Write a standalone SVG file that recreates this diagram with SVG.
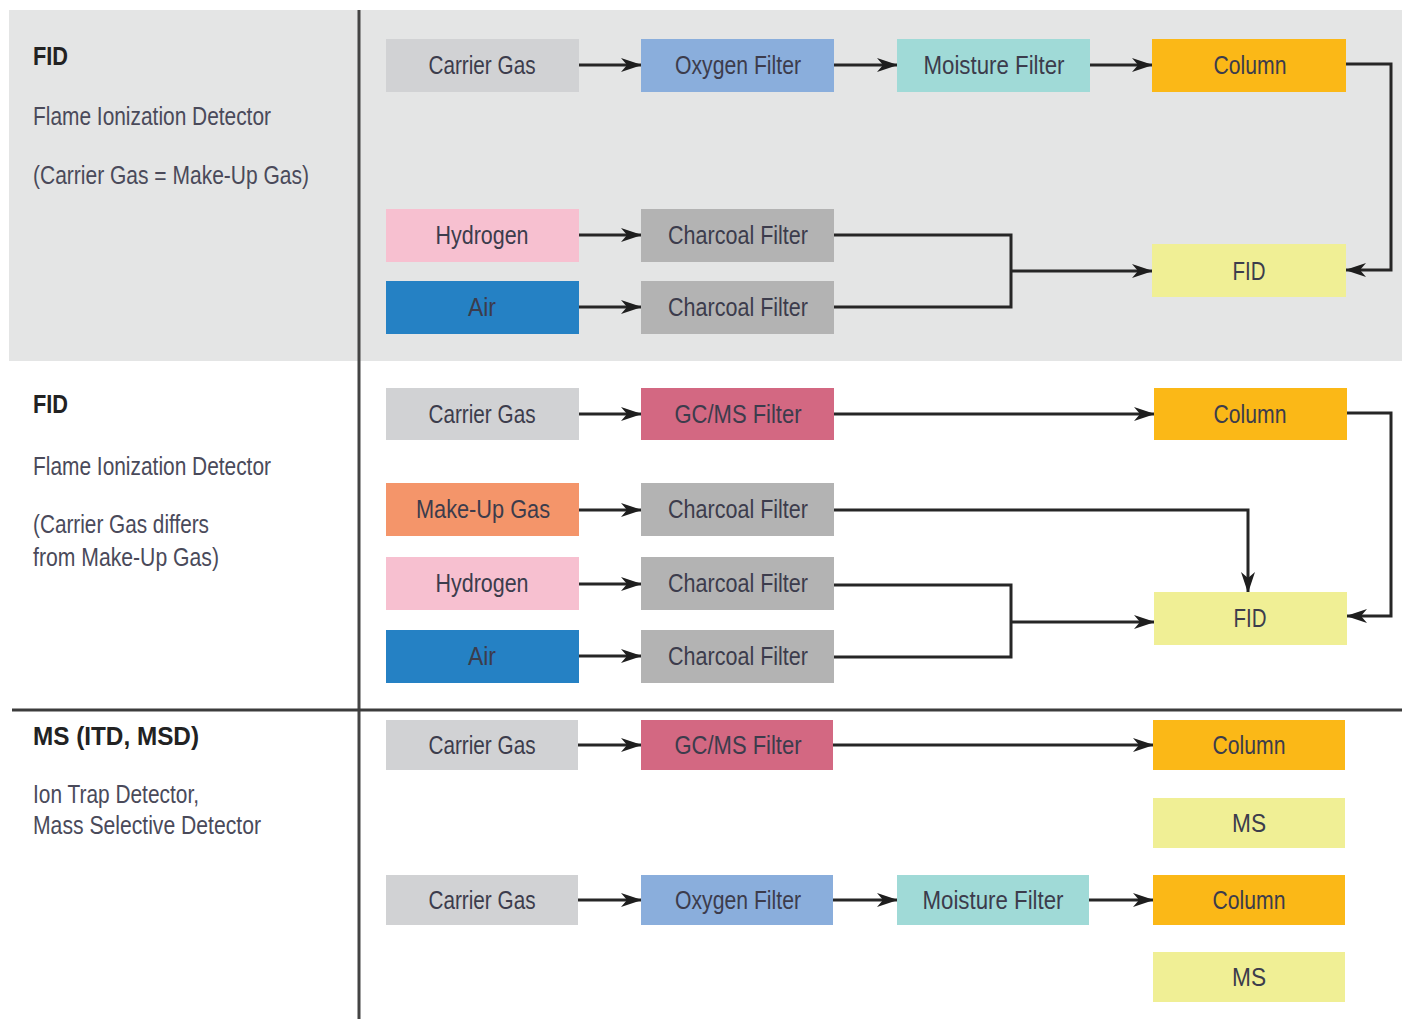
<svg xmlns="http://www.w3.org/2000/svg" width="1402" height="1019" viewBox="0 0 1402 1019">
<style>
text{font-family:"Liberation Sans",Arial,sans-serif;}
.lbl{font-size:26px;fill:#3c3c4c;text-anchor:middle;}
.side{font-size:26px;fill:#4a4a5a;}
.title{font-size:26px;font-weight:bold;fill:#222;}
.con{fill:none;stroke:#262626;stroke-width:3;}
.arr{marker-end:url(#ah);}
.gray{fill:#d1d2d4}.oxy{fill:#8aaedc}.moist{fill:#a0dad7}.col{fill:#fbb817}.hyd{fill:#f7c0d0}
.air{fill:#2581c4}.char{fill:#b3b3b3}.det{fill:#f0ef95}.gcms{fill:#d36882}.mk{fill:#f4956a}
</style>
<defs>
<marker id="ah" markerUnits="userSpaceOnUse" markerWidth="22" markerHeight="14" refX="20" refY="7" orient="auto">
<path d="M0,0 L21,7 L0,14 L6,7 Z" fill="#1e1e1e"/>
</marker>
</defs>
<rect width="1402" height="1019" fill="#fff"/>
<rect x="9" y="10" width="1393" height="351" fill="#e4e5e5"/>
<line x1="359" y1="10" x2="359" y2="1019" stroke="#444" stroke-width="3"/>
<line x1="12" y1="710" x2="1402" y2="710" stroke="#3c3c3c" stroke-width="3"/>

<g id="side1">
<text class="title" x="33" y="65" textLength="35" lengthAdjust="spacingAndGlyphs">FID</text>
<text class="side" x="33" y="125" textLength="238" lengthAdjust="spacingAndGlyphs">Flame Ionization Detector</text>
<text class="side" x="33" y="184" textLength="276" lengthAdjust="spacingAndGlyphs">(Carrier Gas = Make-Up Gas)</text>
</g>
<g id="side2">
<text class="title" x="33" y="413" textLength="35" lengthAdjust="spacingAndGlyphs">FID</text>
<text class="side" x="33" y="475" textLength="238" lengthAdjust="spacingAndGlyphs">Flame Ionization Detector</text>
<text class="side" x="33" y="533" textLength="176" lengthAdjust="spacingAndGlyphs">(Carrier Gas differs</text>
<text class="side" x="33" y="566" textLength="186" lengthAdjust="spacingAndGlyphs">from Make-Up Gas)</text>
</g>
<g id="side3">
<text class="title" x="33" y="745" textLength="166" lengthAdjust="spacingAndGlyphs">MS (ITD, MSD)</text>
<text class="side" x="33" y="803" textLength="166" lengthAdjust="spacingAndGlyphs">Ion Trap Detector,</text>
<text class="side" x="33" y="834" textLength="228" lengthAdjust="spacingAndGlyphs">Mass Selective Detector</text>
</g>

<g id="connectors">
<path class="con arr" d="M579,65 H641"/>
<path class="con arr" d="M834,65 H897"/>
<path class="con arr" d="M1090,65 H1152"/>
<path class="con arr" d="M1346,64 H1391 V270 H1346"/>
<path class="con arr" d="M579,235 H641"/>
<path class="con arr" d="M579,307 H641"/>
<path class="con" d="M834,235 H1011 V307 H834"/>
<path class="con arr" d="M1011,271 H1152"/>

<path class="con arr" d="M579,414 H641"/>
<path class="con arr" d="M834,414 H1154"/>
<path class="con arr" d="M1347,413 H1391 V616 H1347"/>
<path class="con arr" d="M579,510 H641"/>
<path class="con arr" d="M834,510 H1248 V592"/>
<path class="con arr" d="M579,584 H641"/>
<path class="con arr" d="M579,656 H641"/>
<path class="con" d="M834,585 H1011 V657 H834"/>
<path class="con arr" d="M1011,622 H1154"/>

<path class="con arr" d="M578,745 H641"/>
<path class="con arr" d="M833,745 H1153"/>
<path class="con arr" d="M578,900 H641"/>
<path class="con arr" d="M833,900 H897"/>
<path class="con arr" d="M1089,900 H1153"/>
</g>

<g id="n1"><rect class="gray" x="386" y="39" width="193" height="53"/><text class="lbl" x="482" y="74" textLength="107" lengthAdjust="spacingAndGlyphs">Carrier Gas</text></g>
<g id="n2"><rect class="oxy" x="641" y="39" width="193" height="53"/><text class="lbl" x="738" y="74" textLength="126" lengthAdjust="spacingAndGlyphs">Oxygen Filter</text></g>
<g id="n3"><rect class="moist" x="897" y="39" width="193" height="53"/><text class="lbl" x="994" y="74" textLength="141" lengthAdjust="spacingAndGlyphs">Moisture Filter</text></g>
<g id="n4"><rect class="col" x="1152" y="39" width="194" height="53"/><text class="lbl" x="1250" y="74" textLength="73" lengthAdjust="spacingAndGlyphs">Column</text></g>
<g id="n5"><rect class="hyd" x="386" y="209" width="193" height="53"/><text class="lbl" x="482" y="244" textLength="93" lengthAdjust="spacingAndGlyphs">Hydrogen</text></g>
<g id="n6"><rect class="char" x="641" y="209" width="193" height="53"/><text class="lbl" x="738" y="244" textLength="140" lengthAdjust="spacingAndGlyphs">Charcoal Filter</text></g>
<g id="n7"><rect class="air" x="386" y="281" width="193" height="53"/><text class="lbl" x="482" y="316" textLength="28" lengthAdjust="spacingAndGlyphs">Air</text></g>
<g id="n8"><rect class="char" x="641" y="281" width="193" height="53"/><text class="lbl" x="738" y="316" textLength="140" lengthAdjust="spacingAndGlyphs">Charcoal Filter</text></g>
<g id="n9"><rect class="det" x="1152" y="244" width="194" height="53"/><text class="lbl" x="1249" y="280" textLength="33" lengthAdjust="spacingAndGlyphs">FID</text></g>

<g id="m1"><rect class="gray" x="386" y="388" width="193" height="52"/><text class="lbl" x="482" y="423" textLength="107" lengthAdjust="spacingAndGlyphs">Carrier Gas</text></g>
<g id="m2"><rect class="gcms" x="641" y="388" width="193" height="52"/><text class="lbl" x="738" y="423" textLength="127" lengthAdjust="spacingAndGlyphs">GC/MS Filter</text></g>
<g id="m3"><rect class="col" x="1154" y="388" width="193" height="52"/><text class="lbl" x="1250" y="423" textLength="73" lengthAdjust="spacingAndGlyphs">Column</text></g>
<g id="m4"><rect class="mk" x="386" y="483" width="193" height="53"/><text class="lbl" x="483" y="518" textLength="134" lengthAdjust="spacingAndGlyphs">Make-Up Gas</text></g>
<g id="m5"><rect class="char" x="641" y="483" width="193" height="53"/><text class="lbl" x="738" y="518" textLength="140" lengthAdjust="spacingAndGlyphs">Charcoal Filter</text></g>
<g id="m6"><rect class="hyd" x="386" y="557" width="193" height="53"/><text class="lbl" x="482" y="592" textLength="93" lengthAdjust="spacingAndGlyphs">Hydrogen</text></g>
<g id="m7"><rect class="char" x="641" y="557" width="193" height="53"/><text class="lbl" x="738" y="592" textLength="140" lengthAdjust="spacingAndGlyphs">Charcoal Filter</text></g>
<g id="m8"><rect class="air" x="386" y="630" width="193" height="53"/><text class="lbl" x="482" y="665" textLength="28" lengthAdjust="spacingAndGlyphs">Air</text></g>
<g id="m9"><rect class="char" x="641" y="630" width="193" height="53"/><text class="lbl" x="738" y="665" textLength="140" lengthAdjust="spacingAndGlyphs">Charcoal Filter</text></g>
<g id="m10"><rect class="det" x="1154" y="592" width="193" height="53"/><text class="lbl" x="1250" y="627" textLength="33" lengthAdjust="spacingAndGlyphs">FID</text></g>

<g id="s1"><rect class="gray" x="386" y="720" width="192" height="50"/><text class="lbl" x="482" y="754" textLength="107" lengthAdjust="spacingAndGlyphs">Carrier Gas</text></g>
<g id="s2"><rect class="gcms" x="641" y="720" width="192" height="50"/><text class="lbl" x="738" y="754" textLength="127" lengthAdjust="spacingAndGlyphs">GC/MS Filter</text></g>
<g id="s3"><rect class="col" x="1153" y="720" width="192" height="50"/><text class="lbl" x="1249" y="754" textLength="73" lengthAdjust="spacingAndGlyphs">Column</text></g>
<g id="s4"><rect class="det" x="1153" y="798" width="192" height="50"/><text class="lbl" x="1249" y="832" textLength="34" lengthAdjust="spacingAndGlyphs">MS</text></g>
<g id="s5"><rect class="gray" x="386" y="875" width="192" height="50"/><text class="lbl" x="482" y="909" textLength="107" lengthAdjust="spacingAndGlyphs">Carrier Gas</text></g>
<g id="s6"><rect class="oxy" x="641" y="875" width="192" height="50"/><text class="lbl" x="738" y="909" textLength="126" lengthAdjust="spacingAndGlyphs">Oxygen Filter</text></g>
<g id="s7"><rect class="moist" x="897" y="875" width="192" height="50"/><text class="lbl" x="993" y="909" textLength="141" lengthAdjust="spacingAndGlyphs">Moisture Filter</text></g>
<g id="s8"><rect class="col" x="1153" y="875" width="192" height="50"/><text class="lbl" x="1249" y="909" textLength="73" lengthAdjust="spacingAndGlyphs">Column</text></g>
<g id="s9"><rect class="det" x="1153" y="952" width="192" height="50"/><text class="lbl" x="1249" y="986" textLength="34" lengthAdjust="spacingAndGlyphs">MS</text></g>
</svg>
